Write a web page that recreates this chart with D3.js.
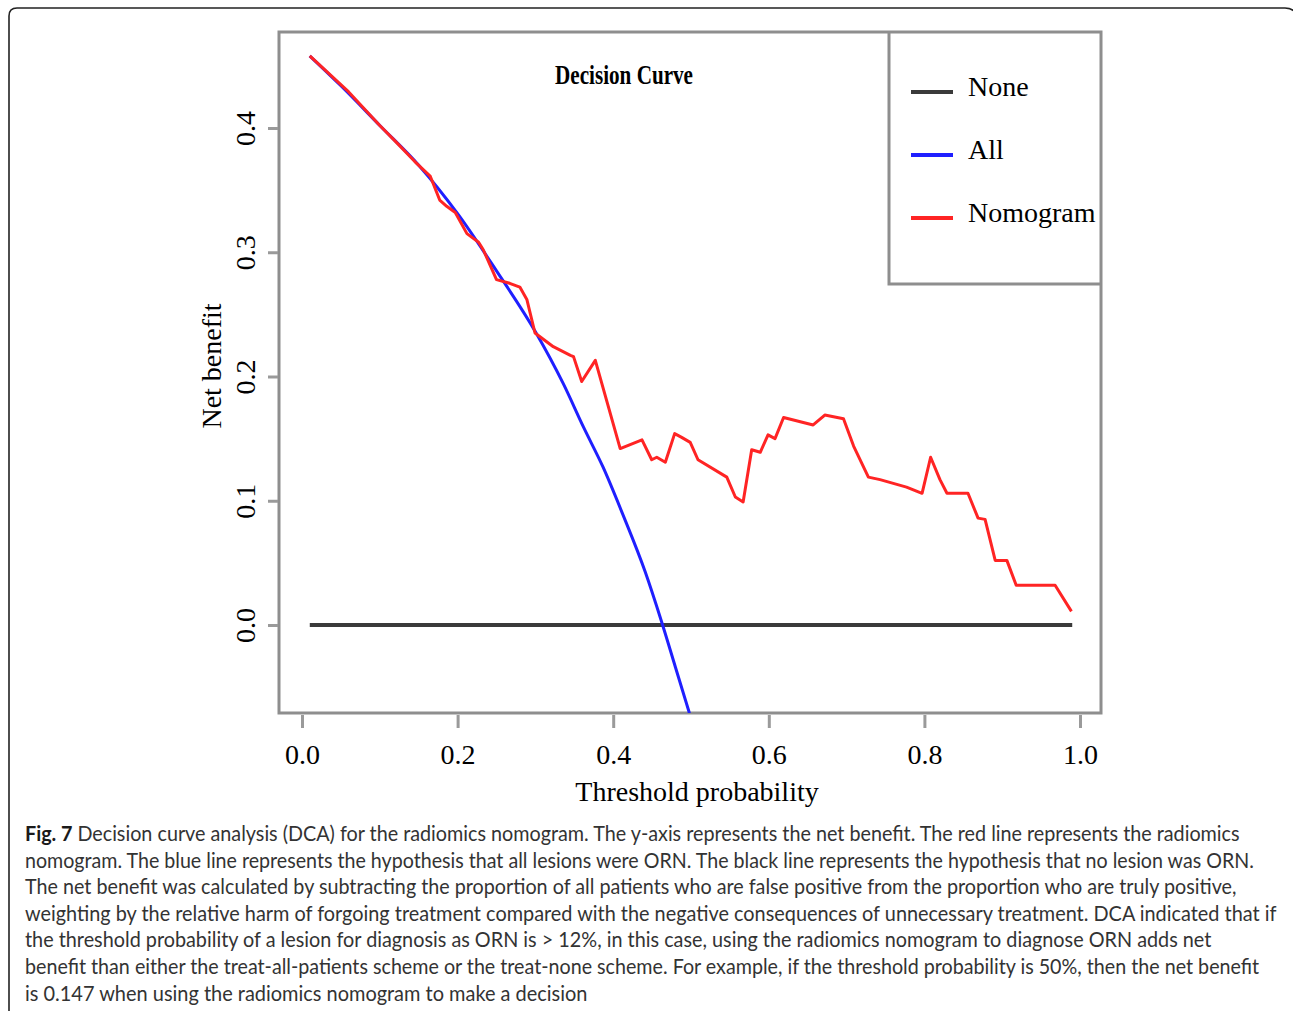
<!DOCTYPE html>
<html>
<head>
<meta charset="utf-8">
<style>
body {
	margin: 0;
	background: #fff;
}
.axis text {
	font-family: "Liberation Serif", "DejaVu Serif", serif;
	font-size: 28px;
	fill: #000;
}
.axis line {
	stroke: #9a9a9a;
	stroke-width: 3;
}
.frame {
	fill: none;
	stroke: #8e8e8e;
	stroke-width: 3;
}
.label {
	font-family: "Liberation Serif", "DejaVu Serif", serif;
	font-size: 28px;
	fill: #000;
}
.caption {
	font-family: Lato, "Open Sans", sans-serif;
	font-size: 21px;
	fill: #333;
}
</style>
</head>
<body>
<script src="https://d3js.org/d3.v7.min.js"></script>
<script>
	// threshold probability (x) and net benefit (y)
	var nonePt = [0.01, 0.99];
	var noneNb = [0, 0];

	var allPt = [0.01, 0.05, 0.10, 0.15, 0.20, 0.25, 0.30, 0.336, 0.362, 0.387, 0.413, 0.441, 0.462, 0.48, 0.498];
	var allNb = [0.458, 0.434, 0.402, 0.370, 0.331, 0.285, 0.236, 0.194, 0.159, 0.127, 0.088, 0.043, 0.003, -0.034, -0.071];

	var nomoPt = [0.01, 0.06, 0.10, 0.122, 0.145, 0.165, 0.177, 0.186, 0.197, 0.212, 0.227, 0.233, 0.25, 0.267, 0.28,
		0.289, 0.2995, 0.323, 0.345, 0.349, 0.3595, 0.377, 0.409, 0.437, 0.4495, 0.456, 0.467, 0.479, 0.488, 0.499,
		0.509, 0.546, 0.557, 0.567, 0.578, 0.589, 0.599, 0.608, 0.619, 0.657, 0.672, 0.696, 0.709, 0.728, 0.743,
		0.777, 0.797, 0.808, 0.82, 0.829, 0.856, 0.869, 0.878, 0.891, 0.906, 0.918, 0.968, 0.989];
	var nomoNb = [0.458, 0.429, 0.402, 0.388, 0.373, 0.361, 0.342, 0.337, 0.332, 0.315, 0.308, 0.302, 0.278, 0.275, 0.272,
		0.262, 0.235, 0.224, 0.217, 0.216, 0.196, 0.213, 0.142, 0.149, 0.133, 0.135, 0.131, 0.154, 0.151, 0.147,
		0.133, 0.119, 0.103, 0.099, 0.141, 0.139, 0.153, 0.150, 0.167, 0.161, 0.169, 0.166, 0.144, 0.119, 0.117,
		0.111, 0.106, 0.135, 0.117, 0.106, 0.106, 0.086, 0.085, 0.052, 0.052, 0.032, 0.032, 0.011];

	var xTicks = [0, 0.2, 0.4, 0.6, 0.8, 1.0];
	var yTicks = [0, 0.1, 0.2, 0.3, 0.4];

	var legendNames = ["None", "All", "Nomogram"];
	var legendColors = ["#3a3a3a", "#1f1fff", "#ff2424"];

	var captionLines = [
		"Decision curve analysis (DCA) for the radiomics nomogram. The y-axis represents the net benefit. The red line represents the radiomics",
		"nomogram. The blue line represents the hypothesis that all lesions were ORN. The black line represents the hypothesis that no lesion was ORN.",
		"The net benefit was calculated by subtracting the proportion of all patients who are false positive from the proportion who are truly positive,",
		"weighting by the relative harm of forgoing treatment compared with the negative consequences of unnecessary treatment. DCA indicated that if",
		"the threshold probability of a lesion for diagnosis as ORN is > 12%, in this case, using the radiomics nomogram to diagnose ORN adds net",
		"benefit than either the treat-all-patients scheme or the treat-none scheme. For example, if the threshold probability is 50%, then the net benefit",
		"is 0.147 when using the radiomics nomogram to make a decision"
	];
	var captionRight = [1241, 1254, 1237, 1277, 1212, 1260, 588];

	var width = 1293,
		height = 1012;

	var svg = d3.select("body").append("svg")
		.attr("width", width)
		.attr("height", height);

	// outer figure border (open at the right / bottom edge)
	svg.append("path")
		.attr("d", "M9,1011 L9,16 Q9,8 17,8 L1285,8 Q1293,8 1296,14")
		.attr("fill", "none")
		.attr("stroke", "#222")
		.attr("stroke-width", 1.6);

	var x = d3.scaleLinear().domain([0, 1]).range([302, 1080]);
	var y = d3.scaleLinear().domain([0, 0.4]).range([625, 128]);

	var box = {left: 279, right: 1101, top: 32, bottom: 713};

	svg.append("defs").append("clipPath")
		.attr("id", "plotclip")
		.append("rect")
		.attr("x", box.left)
		.attr("y", box.top)
		.attr("width", box.right - box.left)
		.attr("height", box.bottom - box.top);

	// plot frame
	svg.append("path")
		.attr("class", "frame")
		.attr("d", "M" + box.left + "," + box.top + " L" + box.right + "," + box.top +
			" L" + box.right + "," + box.bottom + " L" + box.left + "," + box.bottom + " Z");

	// x axis
	var xAxis = svg.append("g")
		.attr("class", "axis")
		.attr("transform", "translate(0," + (box.bottom + 2) + ")")
		.call(d3.axisBottom(x).tickValues(xTicks).tickFormat(d3.format(".1f")).tickSize(13).tickPadding(16));
	xAxis.select(".domain").remove();

	// y axis, labels rotated like base R
	var yAxis = svg.append("g")
		.attr("class", "axis")
		.attr("transform", "translate(" + (box.left - 1) + ",0)")
		.call(d3.axisLeft(y).tickValues(yTicks).tickFormat(d3.format(".1f")).tickSize(10));
	yAxis.select(".domain").remove();
	yAxis.selectAll(".tick text")
		.attr("x", null)
		.attr("dy", null)
		.attr("text-anchor", "middle")
		.attr("transform", "translate(-23,0) rotate(-90)");

	svg.append("text")
		.attr("class", "label")
		.attr("text-anchor", "middle")
		.attr("transform", "translate(221,366) rotate(-90)")
		.text("Net benefit");

	svg.append("text")
		.attr("class", "label")
		.attr("text-anchor", "middle")
		.attr("x", 697)
		.attr("y", 801)
		.text("Threshold probability");

	svg.append("text")
		.attr("class", "label")
		.attr("x", 555)
		.attr("y", 84)
		.attr("font-weight", "bold")
		.attr("textLength", 138)
		.attr("lengthAdjust", "spacingAndGlyphs")
		.text("Decision Curve");

	var line = d3.line()
		.x(function(d) { return x(d[0]); })
		.y(function(d) { return y(d[1]); });

	var lines = svg.append("g").attr("clip-path", "url(#plotclip)");

	lines.append("path")
		.datum(d3.zip(nonePt, noneNb))
		.attr("d", line)
		.attr("fill", "none")
		.attr("stroke", legendColors[0])
		.attr("stroke-width", 4);

	lines.append("path")
		.datum(d3.zip(allPt, allNb))
		.attr("d", line.curve(d3.curveMonotoneX))
		.attr("fill", "none")
		.attr("stroke", legendColors[1])
		.attr("stroke-width", 3);

	lines.append("path")
		.datum(d3.zip(nomoPt, nomoNb))
		.attr("d", line.curve(d3.curveLinear))
		.attr("fill", "none")
		.attr("stroke", legendColors[2])
		.attr("stroke-width", 3)
		.attr("stroke-linejoin", "round");

	// legend
	svg.append("path")
		.attr("class", "frame")
		.attr("d", "M889," + box.top + " L889,284 L" + box.right + ",284");

	var leg = svg.append("g").selectAll("g")
		.data(legendNames)
		.enter()
		.append("g")
		.attr("transform", function(d, i) { return "translate(0," + (92 + i * 63) + ")"; });

	leg.append("line")
		.attr("x1", 911)
		.attr("x2", 953)
		.attr("stroke", function(d, i) { return legendColors[i]; })
		.attr("stroke-width", 4);

	leg.append("text")
		.attr("class", "label")
		.attr("x", 968)
		.attr("y", 4)
		.text(function(d) { return d; });

	// caption: each line squeezed horizontally to the width it has in the figure
	var cap = svg.append("g");
	captionLines.forEach(function(t, i) {
		var g = cap.append("g");
		var txt = g.append("text")
			.attr("class", "caption")
			.attr("x", 0)
			.attr("y", 0);
		if (i === 0) {
			txt.append("tspan").attr("font-weight", "bold").attr("fill", "#1a1a1a").text("Fig. 7 ");
		}
		txt.append("tspan").text(t);
		var w = txt.node().getComputedTextLength();
		var sx = (captionRight[i] - 25) / w;
		g.attr("transform", "translate(25," + (841 + i * 26.6) + ") scale(" + sx + ",1)");
	});
</script>
</body>
</html>
